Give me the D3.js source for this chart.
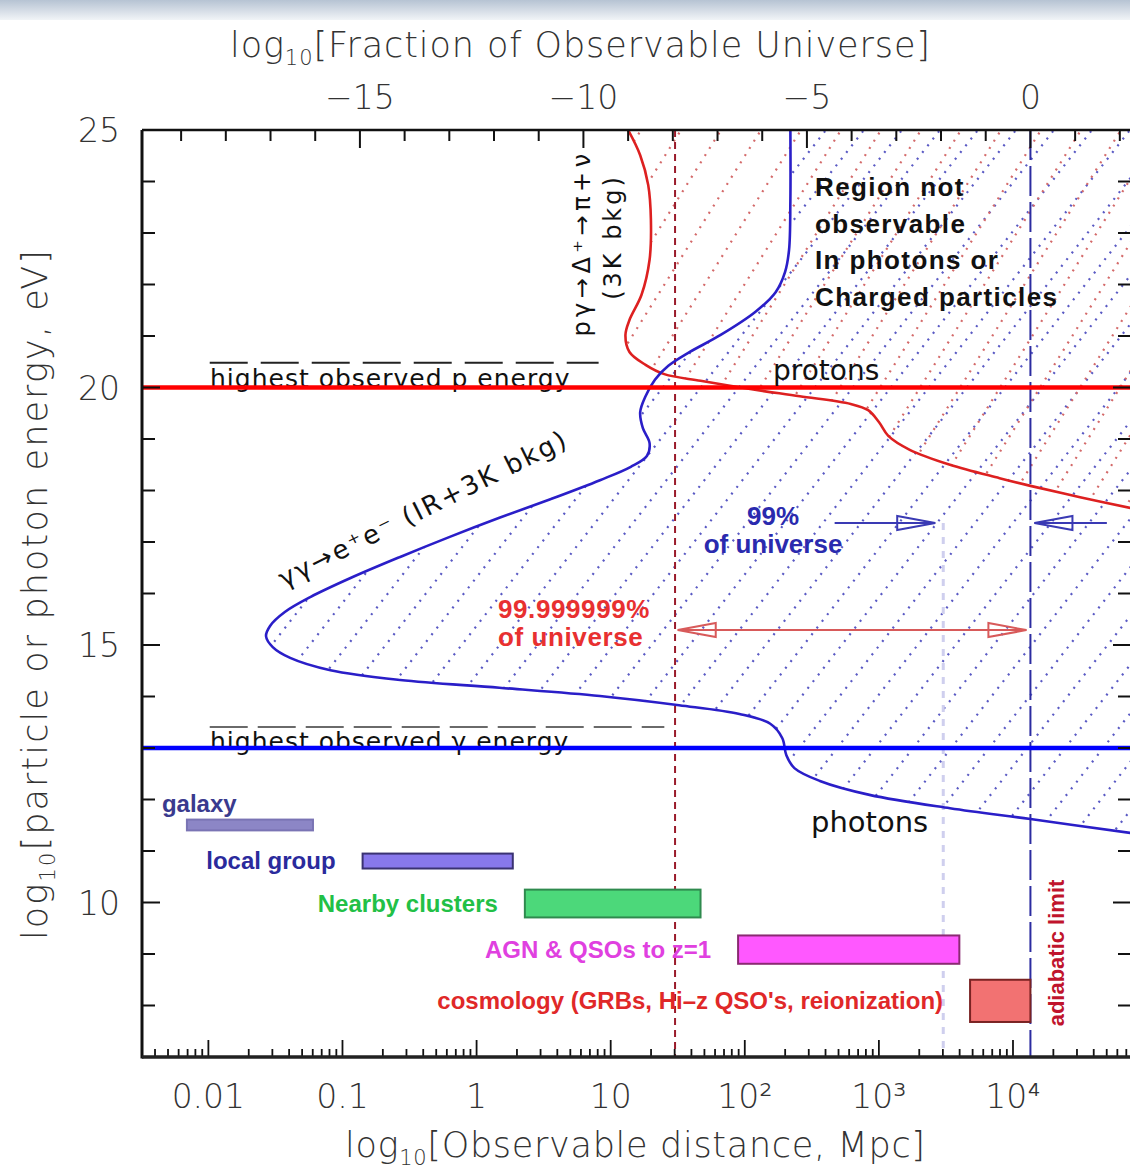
<!DOCTYPE html>
<html>
<head>
<meta charset="utf-8">
<script src="https://cdn.jsdelivr.net/npm/d3@7"></script>
<style>
  html, body { margin: 0; padding: 0; background: #fff; }
  svg { display: block; }
</style>
</head>
<body>
<svg id="chart" width="1130" height="1169"></svg>
<script>
// ---------------- data ----------------
const energyMajorTicks = [10, 15, 20, 25];
const distanceDecades = [-2, -1, 0, 1, 2, 3, 4];
const distanceDecadeLabels = ["0.01", "0.1", "1", "10", "10²", "10³", "10⁴"];
const fractionMajorTicks = [-15, -10, -5, 0];
const fractionMajorLabels = ["−15", "−10", "−5", "0"];

// log10 distance (Mpc) of the horizon / adiabatic limit
const horizonLogD = 4.13;
// distance enclosing 1e-8 of the universe, and 1% of it
const tinyFractionLogD = 1.48;
const onePercentLogD = 3.48;

// highest observed energies (log10 eV)
const highestProtonE = 20;
const highestPhotonE = 13;

// proton horizon (p gamma -> Delta -> pi), log10 distance vs log10 energy
const protonLimitLogD = [1.13, 1.22, 1.28, 1.30, 1.29, 1.23, 1.14, 1.11, 1.14, 1.26,
                         1.40, 1.67, 2.04, 2.41, 2.79, 2.92, 3.00, 3.07, 3.23, 3.53,
                         3.90, 4.13, 4.50, 4.88];
const protonLimitE    = [25.0, 24.51, 23.93, 23.25, 22.48, 21.80, 21.31, 21.02, 20.69, 20.44,
                         20.26, 20.13, 19.97, 19.83, 19.68, 19.56, 19.33, 19.06, 18.79, 18.50,
                         18.24, 18.09, 17.87, 17.66];

// photon horizon (gamma gamma -> e+ e-)
const photonLimitLogD = [2.34, 2.34, 2.33, 2.30, 2.23, 2.08, 1.82, 1.59, 1.43, 1.33,
                         1.26, 1.22, 1.24, 1.29, 1.27, 1.15, 0.92, 0.55, 0.17, -0.20,
                         -0.57, -0.94, -1.24, -1.43, -1.54, -1.57, -1.52, -1.39, -1.09, -0.57,
                         0.17, 0.92, 1.51, 1.96, 2.19, 2.28, 2.31, 2.37, 2.56, 2.93,
                         3.53, 4.13, 4.88];
const photonLimitE    = [25.0, 23.64, 22.67, 22.24, 21.85, 21.47, 21.02, 20.69, 20.42, 20.15,
                         19.83, 19.52, 19.21, 18.92, 18.67, 18.46, 18.20, 17.83, 17.47, 17.10,
                         16.71, 16.30, 15.93, 15.64, 15.37, 15.17, 14.96, 14.75, 14.51, 14.32,
                         14.17, 14.01, 13.83, 13.66, 13.47, 13.19, 12.86, 12.61, 12.36, 12.09,
                         11.83, 11.62, 11.35];

// astrophysical scales (log10 Mpc ranges)
const scaleNames = ["galaxy", "local group", "Nearby clusters", "AGN & QSOs to z=1",
                    "cosmology (GRBs, Hi–z QSO's, reionization)"];
const scaleLogDMin = [-2.16, -0.85, 0.36, 1.95, 3.68];
const scaleLogDMax = [-1.22, 0.27, 1.67, 3.60, 4.13];
const scaleETop    = [11.61, 10.95, 10.25, 9.36, 8.50];
const scaleEBottom = [11.40, 10.66, 9.71, 8.81, 7.68];

// guide levels for the "highest observed" dashes
const protonDashE = 20.48, protonDashLogD = [-1.99, 0.91];
const photonDashE = 13.41, photonDashLogD = [-1.99, 1.40];

// fraction-of-universe arrows: [from, to, energy]
const arrow99 = [2.67, 3.42, 17.37];
const arrow99Right = [4.70, 4.16, 17.37];
const arrowTiny = [1.50, 4.10, 15.29];

// ---------------- layout ----------------
const W = 1130, H = 1169;
const M = { left: 142, right: 1131, top: 130, bottom: 1057 };
const logDDomain = [-2.495, 4.88];

const x = d3.scaleLinear().domain(logDDomain).range([M.left, M.right]);
const y = d3.scaleLinear().domain([7, 25]).range([M.bottom, M.top]);
const xTop = d3.scaleLinear()
  .domain(logDDomain.map(v => 3 * (v - horizonLogD)))
  .range([M.left, M.right]);

const SANS = "'DejaVu Sans', 'Liberation Sans', sans-serif";
const BOLD = "'Liberation Sans', Arial, sans-serif";

const svg = d3.select("#chart");
const defs = svg.append("defs");

// soft band along the top of the page
const grad = defs.append("linearGradient").attr("id", "band")
  .attr("x1", 0).attr("y1", 0).attr("x2", 0).attr("y2", 1);
grad.append("stop").attr("offset", 0).attr("stop-color", "#b6c3d3");
grad.append("stop").attr("offset", 1).attr("stop-color", "#f1f4f7");
svg.append("rect").attr("x", 0).attr("y", 0).attr("width", W).attr("height", 20)
  .attr("fill", "url(#band)");

defs.append("clipPath").attr("id", "plotClip").append("rect")
  .attr("x", M.left).attr("y", M.top)
  .attr("width", M.right - M.left).attr("height", M.bottom - M.top);

const plot = svg.append("g").attr("clip-path", "url(#plotClip)");

const curve = d3.line()
  .x(d => x(d[0])).y(d => y(d[1]))
  .curve(d3.curveCatmullRom.alpha(0.5));

const protonPts = d3.zip(protonLimitLogD, protonLimitE);
const photonPts = d3.zip(photonLimitLogD, photonLimitE);

// region beyond a horizon curve, closed along the right and top edges
function regionPath(pts) {
  const first = pts[0], last = pts[pts.length - 1];
  return curve(pts) +
    `L${M.right + 6},${y(last[1])}L${M.right + 6},${M.top - 6}L${x(first[0])},${M.top - 6}Z`;
}

// dotted diagonal hatching clipped to a region
function hatch(id, pts, color, angle, spacing, phase) {
  defs.append("clipPath").attr("id", id).append("path").attr("d", regionPath(pts));
  const g = plot.append("g").attr("clip-path", `url(#${id})`);
  const run = (M.bottom - M.top) / Math.tan(angle * Math.PI / 180);
  const starts = d3.range(M.left - run + phase, M.right + spacing, spacing);
  g.selectAll("line").data(starts).join("line")
    .attr("x1", u => u).attr("y1", M.bottom)
    .attr("x2", u => u + run).attr("y2", M.top)
    .attr("stroke", color).attr("stroke-width", 2.2)
    .attr("stroke-dasharray", "2,6.5");
}

hatch("photonRegion", photonPts, "#5a5ac4", 52, 38, 0);
hatch("protonRegion", protonPts, "#d46a6a", 58, 40, 19);

// 1% of the universe marker
plot.append("line")
  .attr("x1", x(onePercentLogD)).attr("x2", x(onePercentLogD))
  .attr("y1", y(arrow99[2])).attr("y2", M.bottom)
  .attr("stroke", "#cfcfee").attr("stroke-width", 3).attr("stroke-dasharray", "7,7");

// 1e-8 of the universe marker
plot.append("line")
  .attr("x1", x(tinyFractionLogD)).attr("x2", x(tinyFractionLogD))
  .attr("y1", M.top).attr("y2", M.bottom)
  .attr("stroke", "#9a1b2b").attr("stroke-width", 2).attr("stroke-dasharray", "7,5");

// adiabatic limit
plot.append("line")
  .attr("x1", x(horizonLogD)).attr("x2", x(horizonLogD))
  .attr("y1", M.top).attr("y2", M.bottom)
  .attr("stroke", "#2c2ca0").attr("stroke-width", 2).attr("stroke-dasharray", "30,6");

// horizon curves
plot.append("path").attr("d", curve(protonPts))
  .attr("fill", "none").attr("stroke", "#dd2020").attr("stroke-width", 2.6);
plot.append("path").attr("d", curve(photonPts))
  .attr("fill", "none").attr("stroke", "#2a1ec8").attr("stroke-width", 2.6);

// "highest observed" guides
plot.append("line")
  .attr("x1", x(protonDashLogD[0])).attr("x2", x(protonDashLogD[1]))
  .attr("y1", y(protonDashE)).attr("y2", y(protonDashE))
  .attr("stroke", "#222").attr("stroke-width", 2).attr("stroke-dasharray", "38,13");
plot.append("line")
  .attr("x1", x(photonDashLogD[0])).attr("x2", x(photonDashLogD[1]))
  .attr("y1", y(photonDashE)).attr("y2", y(photonDashE))
  .attr("stroke", "#6a6a6a").attr("stroke-width", 2).attr("stroke-dasharray", "38,10");

plot.append("text").attr("x", 210).attr("y", y(highestProtonE) - 1)
  .attr("font-family", SANS).attr("font-size", 25).attr("letter-spacing", 1)
  .attr("fill", "#111").text("highest observed p energy");
plot.append("text").attr("x", 210).attr("y", y(highestPhotonE) + 2)
  .attr("font-family", SANS).attr("font-size", 25).attr("letter-spacing", 1)
  .attr("fill", "#111").text("highest observed γ energy");

// highest observed energies
plot.append("line")
  .attr("x1", M.left).attr("x2", M.right)
  .attr("y1", y(highestProtonE)).attr("y2", y(highestProtonE))
  .attr("stroke", "#ff0000").attr("stroke-width", 4.5);
plot.append("line")
  .attr("x1", M.left).attr("x2", M.right)
  .attr("y1", y(highestPhotonE)).attr("y2", y(highestPhotonE))
  .attr("stroke", "#0000ff").attr("stroke-width", 4.5);

// astrophysical scale bars
const barFill   = ["#8c86c6", "#8878ec", "#4cd87a", "#ff58ff", "#f27272"];
const barStroke = ["#7a74b4", "#3a3272", "#2f8a4e", "#8a2a72", "#7a2222"];
const barText   = ["#3a3a8e", "#2a2a9c", "#22c046", "#e040e0", "#e02828"];
scaleNames.forEach((name, i) => {
  const x0 = x(scaleLogDMin[i]), x1 = x(scaleLogDMax[i]);
  const y0 = y(scaleETop[i]), y1 = y(scaleEBottom[i]);
  plot.append("rect").attr("x", x0).attr("y", y0)
    .attr("width", x1 - x0).attr("height", y1 - y0)
    .attr("fill", barFill[i]).attr("stroke", barStroke[i]).attr("stroke-width", 2);
  const t = plot.append("text")
    .attr("font-family", BOLD).attr("font-weight", "bold").attr("font-size", 24)
    .attr("fill", barText[i]).text(name);
  if (i === 0) {
    t.attr("x", x0 - 25).attr("y", y0 - 8);
  } else {
    t.attr("x", x0 - 27).attr("y", (y0 + y1) / 2 + 8).attr("text-anchor", "end");
  }
});

// arrows marking fractions of the universe
function head(g, tipX, yy, dir, color) {
  const L = 38, w = 7;
  g.append("path")
    .attr("d", `M${tipX},${yy}L${tipX - dir * L},${yy - w}L${tipX - dir * L},${yy + w}Z`)
    .attr("fill", "none").attr("stroke", color).attr("stroke-width", 2);
}
function arrow(spec, color, both) {
  const [a, b, E] = spec;
  const yy = y(E), x1 = x(a), x2 = x(b);
  plot.append("line").attr("x1", x1).attr("x2", x2).attr("y1", yy).attr("y2", yy)
    .attr("stroke", color).attr("stroke-width", 2);
  head(plot, x2, yy, Math.sign(x2 - x1), color);
  if (both) head(plot, x1, yy, Math.sign(x1 - x2), color);
}
arrow(arrow99, "#3a3ab4", false);
arrow(arrow99Right, "#3a3ab4", false);
arrow(arrowTiny, "#d85a5a", true);

const blueLbl = plot.append("text").attr("font-family", BOLD).attr("font-weight", "bold")
  .attr("font-size", 26).attr("fill", "#2a2aae").attr("text-anchor", "middle");
blueLbl.append("tspan").attr("x", 773).attr("y", 525).text("99%");
blueLbl.append("tspan").attr("x", 773).attr("y", 553).text("of universe");

const redLbl = plot.append("text").attr("font-family", BOLD).attr("font-weight", "bold")
  .attr("font-size", 26).attr("letter-spacing", 0.6).attr("fill", "#e83030");
redLbl.append("tspan").attr("x", 498).attr("y", 618).text("99.999999%");
redLbl.append("tspan").attr("x", 498).attr("y", 646).text("of universe");

// region annotation
const region = plot.append("text").attr("font-family", BOLD).attr("font-weight", "bold")
  .attr("font-size", 26).attr("letter-spacing", 1.4).attr("fill", "#111");
["Region not", "observable", "In photons or", "Charged particles"].forEach((s, i) => {
  region.append("tspan").attr("x", 815).attr("y", 196 + i * 36.5).text(s);
});

plot.append("text").attr("x", 773).attr("y", 380)
  .attr("font-family", SANS).attr("font-size", 28).attr("fill", "#111").text("protons");
plot.append("text").attr("x", 811).attr("y", 832)
  .attr("font-family", SANS).attr("font-size", 29).attr("fill", "#111").text("photons");

// interaction labels
plot.append("text")
  .attr("transform", "translate(590,243) rotate(-90)")
  .attr("text-anchor", "middle").attr("font-family", SANS).attr("font-size", 24)
  .attr("letter-spacing", 4.5).attr("fill", "#111").text("pγ→Δ⁺→π+ν");
plot.append("text")
  .attr("transform", "translate(621,237) rotate(-90)")
  .attr("text-anchor", "middle").attr("font-family", SANS).attr("font-size", 24)
  .attr("letter-spacing", 3).attr("fill", "#111").text("(3K bkg)");
plot.append("text")
  .attr("transform", "translate(284,588) rotate(-26.5)")
  .attr("font-family", SANS).attr("font-size", 26).attr("letter-spacing", 2.2)
  .attr("fill", "#111").text("γγ→e⁺e⁻ (IR+3K bkg)");

plot.append("text")
  .attr("transform", `translate(${x(horizonLogD) + 34},953) rotate(-90)`)
  .attr("text-anchor", "middle").attr("font-family", BOLD).attr("font-weight", "bold")
  .attr("font-size", 22).attr("fill", "#c0142c").text("adiabatic limit");

// ---------------- frame & ticks ----------------
const axes = svg.append("g").attr("stroke", "#111");

// left / right: every integer energy
d3.range(7, 26).forEach(E => {
  const len = E % 5 === 0 ? 18 : 13;
  axes.append("line").attr("x1", M.left).attr("x2", M.left + len)
    .attr("y1", y(E)).attr("y2", y(E)).attr("stroke-width", 2);
  axes.append("line").attr("x1", M.right).attr("x2", M.right - len)
    .attr("y1", y(E)).attr("y2", y(E)).attr("stroke-width", 2);
});

// bottom: logarithmic distance ticks
d3.range(-3, 5).forEach(n => {
  d3.range(1, 10).forEach(k => {
    const v = n + Math.log10(k);
    if (v <= logDDomain[0] || v >= logDDomain[1]) return;
    const len = k === 1 ? 17 : 8;
    axes.append("line").attr("x1", x(v)).attr("x2", x(v))
      .attr("y1", M.bottom).attr("y2", M.bottom - len).attr("stroke-width", 1.8);
  });
});

// top: fraction of the observable universe
d3.range(-19, 3).forEach(f => {
  const len = f % 5 === 0 ? 18 : 11;
  axes.append("line").attr("x1", xTop(f)).attr("x2", xTop(f))
    .attr("y1", M.top).attr("y2", M.top + len).attr("stroke-width", 2);
});

axes.append("line").attr("x1", M.left).attr("x2", M.left)
  .attr("y1", M.top).attr("y2", M.bottom + 1.5).attr("stroke-width", 3);
axes.append("line").attr("x1", M.left).attr("x2", W)
  .attr("y1", M.top).attr("y2", M.top).attr("stroke-width", 2.5);
axes.append("line").attr("x1", M.left).attr("x2", W)
  .attr("y1", M.bottom).attr("y2", M.bottom).attr("stroke-width", 3.5).attr("stroke", "#222");

// tick labels
const tickFont = { family: SANS, size: 33, fill: "#333" };
energyMajorTicks.forEach(E => {
  svg.append("text").attr("x", 120).attr("y", y(E) + 12).attr("text-anchor", "end")
    .attr("font-family", tickFont.family).attr("font-size", tickFont.size)
    .attr("font-weight", 300).attr("fill", tickFont.fill).text(E);
});
distanceDecades.forEach((v, i) => {
  svg.append("text").attr("x", x(v)).attr("y", 1108).attr("text-anchor", "middle")
    .attr("font-family", tickFont.family).attr("font-size", tickFont.size)
    .attr("font-weight", 300).attr("fill", tickFont.fill).text(distanceDecadeLabels[i]);
});
fractionMajorTicks.forEach((f, i) => {
  svg.append("text").attr("x", xTop(f)).attr("y", 109).attr("text-anchor", "middle")
    .attr("font-family", tickFont.family).attr("font-size", tickFont.size)
    .attr("font-weight", 300).attr("fill", tickFont.fill).text(fractionMajorLabels[i]);
});

// axis titles with a subscripted log base
function title(g, parts, len) {
  const t = g.append("text").attr("text-anchor", "middle")
    .attr("font-family", SANS).attr("font-size", 35).attr("font-weight", 300)
    .attr("fill", "#333").attr("textLength", len).attr("lengthAdjust", "spacing");
  t.append("tspan").text("log");
  t.append("tspan").attr("font-size", 21).attr("dy", 8).text("10");
  t.append("tspan").attr("dy", -8).text(parts);
  return t;
}
title(svg, "[Fraction of Observable Universe]", 700).attr("x", 580).attr("y", 57);
title(svg, "[Observable distance, Mpc]", 580).attr("x", 635).attr("y", 1157);
title(svg.append("g").attr("transform", "translate(47,595) rotate(-90)"),
  "[particle or photon energy, eV]", 690).attr("x", 0).attr("y", 0);
</script>
</body>
</html>
